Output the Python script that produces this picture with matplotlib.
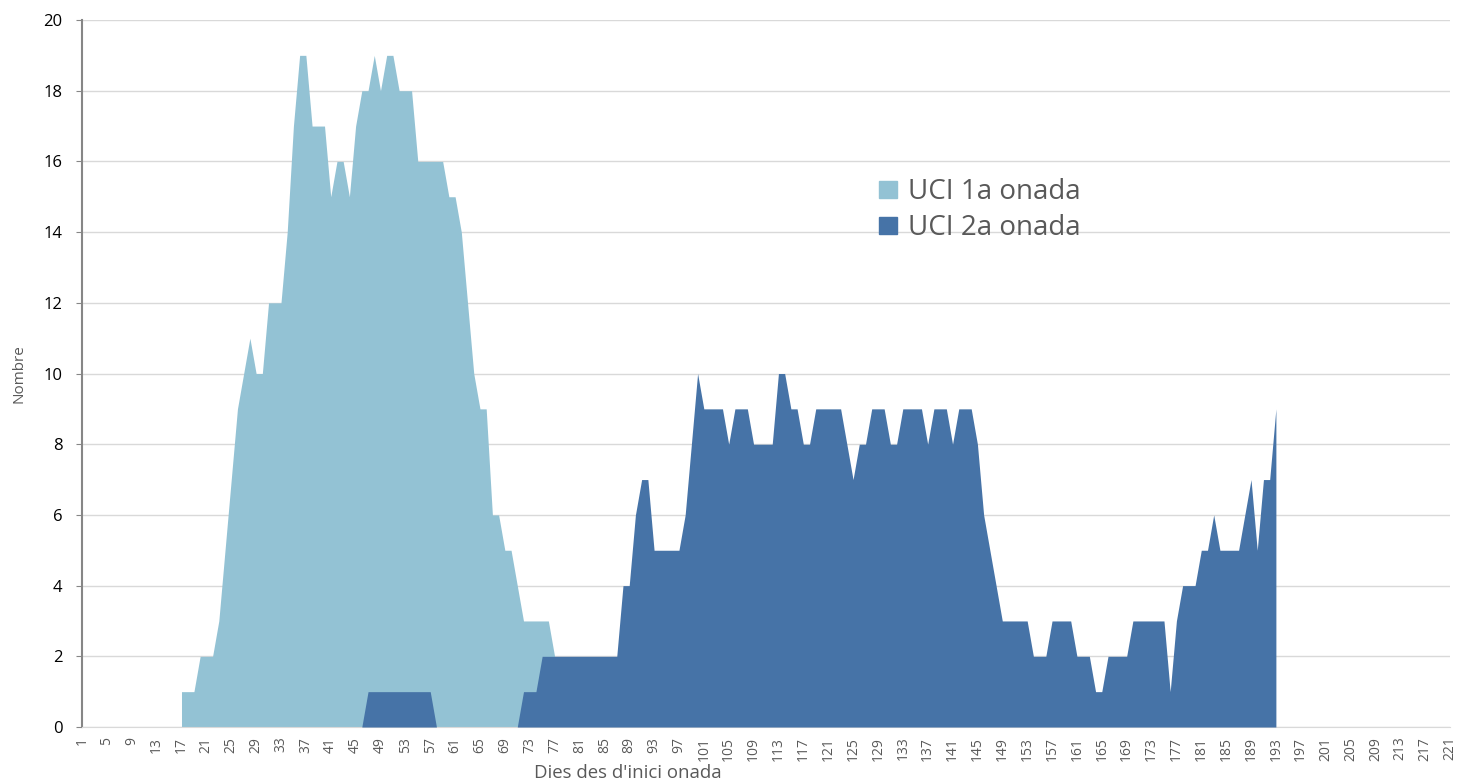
import numpy as np
import matplotlib.pyplot as plt
from matplotlib.patches import Patch

plt.rcParams['font.family'] = ['Open Sans', 'DejaVu Sans']

# UCI 1a onada: values from day 17 to day 77
dies_1a = np.arange(17, 78)
uci_1a = [1, 1, 1, 2, 2, 2, 3, 5, 7, 9, 10, 11, 10, 10, 12, 12, 12, 14, 17, 19,
          19, 17, 17, 17, 15, 16, 16, 15, 17, 18, 18, 19, 18, 19, 19, 18, 18, 18,
          16, 16, 16, 16, 16, 15, 15, 14, 12, 10, 9, 9, 6, 6, 5, 5, 4, 3, 3, 3,
          3, 3, 2]

# UCI 2a onada: values from day 46 to day 193
dies_2a = np.arange(46, 194)
uci_2a = [0] + [1] * 11 + [0] * 14 + [1, 1, 1] + [2] * 13 + \
    [4, 4, 6, 7, 7, 5, 5, 5, 5, 5, 6, 8, 10, 9, 9, 9, 9, 8, 9, 9, 9, 8, 8, 8, 8,
     10, 10, 9, 9, 8, 8, 9, 9, 9, 9, 9, 8, 7, 8, 8, 9, 9, 9, 8, 8, 9, 9, 9, 9,
     8, 9, 9, 9, 8, 9, 9, 9, 8, 6, 5, 4, 3, 3, 3, 3, 3, 2, 2, 2, 3, 3, 3, 3, 2,
     2, 2, 1, 1, 2, 2, 2, 2, 3, 3, 3, 3, 3, 3, 1, 3, 4, 4, 4, 5, 5, 6, 5, 5, 5,
     5, 6, 7, 5, 7, 7, 9]

x_ticks = np.arange(1, 222, 4)
y_ticks = np.arange(0, 21, 2)

color_1a = '#93C2D4'
color_2a = '#4673A7'
gray_text = '#595959'

fig = plt.figure(figsize=(14.6, 7.84), dpi=100)
ax = fig.add_axes([82 / 1460, 1 - 727 / 784, (1450 - 82) / 1460, (727 - 20) / 784])

ax.fill_between(dies_1a, uci_1a, 0, color=color_1a, lw=0, zorder=2)
ax.fill_between(dies_2a, uci_2a, 0, color=color_2a, lw=0, zorder=3)

ax.set_xlim(1, 221)
ax.set_ylim(0, 20)
ax.set_xticks(x_ticks)
ax.set_xticklabels([str(t) for t in x_ticks], rotation=90, fontsize=10, color=gray_text)
ax.set_yticks(y_ticks)
ax.set_yticklabels([str(t) for t in y_ticks], fontsize=12, color='black')
ax.tick_params(axis='x', length=0, pad=7)
ax.tick_params(axis='y', length=4, color='#868686', pad=10)

ax.grid(axis='y', color='#D9D9D9', lw=1, zorder=0)
ax.set_axisbelow(True)
for s in ['top', 'right']:
    ax.spines[s].set_visible(False)
ax.spines['left'].set_color('#868686')
ax.spines['left'].set_linewidth(1.5)
ax.spines['bottom'].set_color('#D9D9D9')

ax.set_ylabel('Nombre', fontsize=11, color=gray_text, labelpad=12)
fig.text(628 / 1460, 1 - 773 / 784, "Dies des d'inici onada", fontsize=13.4,
         color=gray_text, ha='center', va='center')

handles = [Patch(color=color_1a, label='UCI 1a onada'),
           Patch(color=color_2a, label='UCI 2a onada')]
leg = ax.legend(handles=handles, loc='upper left', bbox_to_anchor=(0.5826, 0.776),
                frameon=False, fontsize=20, handlelength=0.65, handleheight=0.55,
                handletextpad=0.4, labelspacing=0.29, borderpad=0, borderaxespad=0)
for t in leg.get_texts():
    t.set_color(gray_text)

fig.savefig('out.png', dpi=100)
